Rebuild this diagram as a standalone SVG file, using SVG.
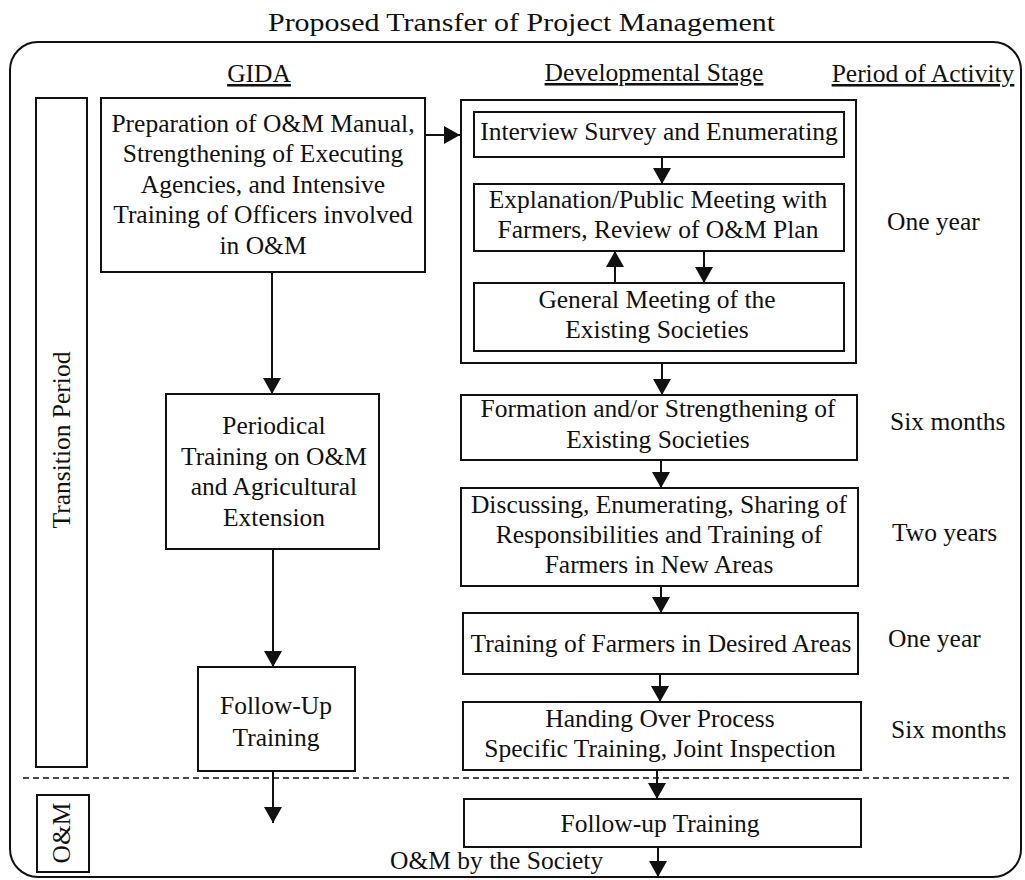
<svg xmlns="http://www.w3.org/2000/svg" width="1025" height="880" viewBox="0 0 1025 880">
<style>
text{font-family:"Liberation Serif","Times New Roman",serif;font-size:25.5px;fill:#111}
.c{text-anchor:middle}
.u{text-decoration:underline}
.box{fill:none;stroke:#111;stroke-width:2}
.conn line{stroke:#111;stroke-width:2}
</style>
<defs>
<marker id="ah" viewBox="0 0 16 18" refX="16" refY="9" markerWidth="16" markerHeight="18" markerUnits="userSpaceOnUse" orient="auto"><path d="M0,0 L16,9 L0,18 z" fill="#111"/></marker>
</defs>
<rect width="1025" height="880" fill="#fff"/>
<text id="title" x="268" y="31" font-size="29.5" textLength="507" lengthAdjust="spacingAndGlyphs">Proposed Transfer of Project Management</text>
<rect id="frame" x="10" y="42" width="1011" height="835" rx="28" ry="28" class="box"/>
<line x1="23" y1="778" x2="1013" y2="778" stroke="#111" stroke-width="1.5" stroke-dasharray="6,4"/>
<text class="c u" x="259" y="82">GIDA</text>
<text class="c u" x="654" y="81">Developmental Stage</text>
<text class="c u" x="923" y="82">Period of Activity</text>

<g id="transition">
<rect x="36" y="98" width="51" height="669" class="box"/>
<text class="c" transform="translate(70,440) rotate(-90)">Transition Period</text>
</g>
<g id="om">
<rect x="37" y="795" width="52" height="77" class="box"/>
<text class="c" transform="translate(70,833) rotate(-90)">O&amp;M</text>
</g>

<g id="gida1">
<rect x="101" y="98" width="324" height="174" class="box"/>
<text class="c" x="263" y="132">Preparation of O&amp;M Manual,</text>
<text class="c" x="263" y="162">Strengthening of Executing</text>
<text class="c" x="263" y="193">Agencies, and Intensive</text>
<text class="c" x="263" y="223">Training of Officers involved</text>
<text class="c" x="263" y="254">in O&amp;M</text>
</g>
<g id="gida2">
<rect x="166" y="394" width="213" height="155" class="box"/>
<text class="c" x="274" y="434">Periodical</text>
<text class="c" x="274" y="465">Training on O&amp;M</text>
<text class="c" x="274" y="495">and Agricultural</text>
<text class="c" x="274" y="526">Extension</text>
</g>
<g id="gida3">
<rect x="198" y="667" width="157" height="104" class="box"/>
<text class="c" x="276" y="714">Follow-Up</text>
<text class="c" x="276" y="746">Training</text>
</g>

<g id="devgroup">
<rect x="461" y="100" width="395" height="263" class="box"/>
</g>
<g id="interview">
<rect x="474" y="112" width="370" height="45" class="box"/>
<text class="c" x="659" y="140">Interview Survey and Enumerating</text>
</g>
<g id="explanation">
<rect x="474" y="184" width="370" height="67" class="box"/>
<text class="c" x="658" y="208">Explanation/Public Meeting with</text>
<text class="c" x="658" y="238">Farmers, Review of O&amp;M Plan</text>
</g>
<g id="general">
<rect x="474" y="283" width="370" height="68" class="box"/>
<text class="c" x="657" y="308">General Meeting of the</text>
<text class="c" x="657" y="338">Existing Societies</text>
</g>
<g id="formation">
<rect x="461" y="395" width="396" height="65" class="box"/>
<text class="c" x="658" y="417">Formation and/or Strengthening of</text>
<text class="c" x="658" y="448">Existing Societies</text>
</g>
<g id="discussing">
<rect x="461" y="488" width="397" height="98" class="box"/>
<text class="c" x="659" y="513">Discussing, Enumerating, Sharing of</text>
<text class="c" x="659" y="543">Responsibilities and Training of</text>
<text class="c" x="659" y="573">Farmers in New Areas</text>
</g>
<g id="training">
<rect x="463" y="613" width="395" height="61" class="box"/>
<text class="c" x="661" y="652">Training of Farmers in Desired Areas</text>
</g>
<g id="handing">
<rect x="463" y="702" width="398" height="68" class="box"/>
<text class="c" x="660" y="727">Handing Over Process</text>
<text class="c" x="660" y="757">Specific Training, Joint Inspection</text>
</g>
<g id="followup">
<rect x="464" y="799" width="397" height="48" class="box"/>
<text class="c" x="660" y="832">Follow-up Training</text>
</g>
<text id="society" x="390" y="869">O&amp;M by the Society</text>

<g id="periods">
<text x="887" y="230">One year</text>
<text x="890" y="430">Six months</text>
<text x="892" y="541">Two years</text>
<text x="888" y="647">One year</text>
<text x="891" y="738">Six months</text>
</g>

<g id="connectors" class="conn">
<line x1="425" y1="135" x2="460" y2="135" marker-end="url(#ah)"/>
<line x1="272" y1="272" x2="272" y2="394" marker-end="url(#ah)"/>
<line x1="273" y1="549" x2="273" y2="667" marker-end="url(#ah)"/>
<line x1="273" y1="771" x2="273" y2="823" marker-end="url(#ah)"/>
<line x1="662" y1="157" x2="662" y2="184" marker-end="url(#ah)"/>
<line x1="615" y1="283" x2="615" y2="251" marker-end="url(#ah)"/>
<line x1="704" y1="251" x2="704" y2="283" marker-end="url(#ah)"/>
<line x1="662" y1="363" x2="662" y2="395" marker-end="url(#ah)"/>
<line x1="661" y1="460" x2="661" y2="488" marker-end="url(#ah)"/>
<line x1="661" y1="586" x2="661" y2="613" marker-end="url(#ah)"/>
<line x1="660" y1="674" x2="660" y2="702" marker-end="url(#ah)"/>
<line x1="657" y1="770" x2="657" y2="799" marker-end="url(#ah)"/>
<line x1="658" y1="847" x2="658" y2="877" marker-end="url(#ah)"/>
</g>
</svg>
